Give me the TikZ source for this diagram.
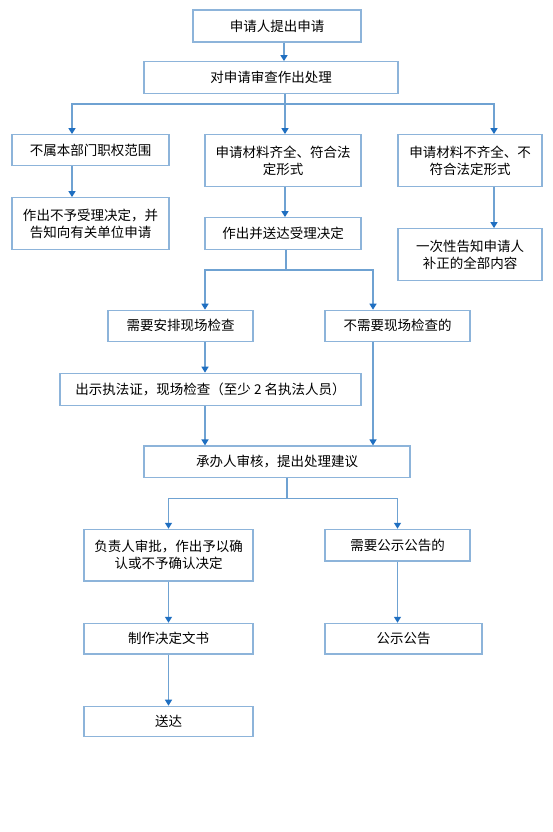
\documentclass[tikz,border=0pt]{standalone}
\usepackage{fontspec}
\newfontfamily\cjk{Noto Sans CJK SC}
\usetikzlibrary{arrows.meta}
\definecolor{boxc}{HTML}{8DB4DA}
\definecolor{linec}{HTML}{6FA2D2}
\definecolor{tipc}{HTML}{1F6FC1}
\begin{document}
\begin{tikzpicture}[x=1pt,y=-1pt,
  box/.style={draw=boxc, line width=1.2pt, inner sep=0pt, align=center,
    font=\cjk\fontsize{13.5}{17}\selectfont},
  conn/.style={draw=linec, line width=1.3pt},
  arr/.style={conn, -{Triangle[width=7pt,length=6pt,color=tipc]}}]
\useasboundingbox[fill=white] (0,0) rectangle (552,832);

\node[box, minimum width=168pt, minimum height=32pt] (b1) at (277,26) {申请人提出申请};
\node[box, minimum width=254pt, minimum height=31.6pt] (b2) at (271,77.5) {对申请审查作出处理};
\node[box, minimum width=157pt, minimum height=31pt] (b3a) at (90.5,150.2) {不属本部门职权范围};
\node[box, minimum width=156pt, minimum height=51.6pt] (b3b) at (283,160.5) {申请材料齐全、符合法\\定形式};
\node[box, minimum width=144pt, minimum height=51.6pt] (b3c) at (470,160.5) {申请材料不齐全、不\\符合法定形式};
\node[box, minimum width=157pt, minimum height=51.6pt] (b4a) at (90.5,223.5) {作出不予受理决定，并\\告知向有关单位申请};
\node[box, minimum width=156pt, minimum height=31.6pt] (b4b) at (283,233.5) {作出并送达受理决定};
\node[box, minimum width=144pt, minimum height=52pt] (b4c) at (470,254.7) {一次性告知申请人\\补正的全部内容};
\node[box, minimum width=145pt, minimum height=31pt] (b5a) at (180.5,325.8) {需要安排现场检查};
\node[box, minimum width=145pt, minimum height=31pt] (b5b) at (397.5,325.8) {不需要现场检查的};
\node[box, minimum width=301pt, minimum height=32pt] (b6) at (210.5,389.3) {出示执法证，现场检查（至少 2 名执法人员）};
\node[box, minimum width=266pt, minimum height=31.3pt] (b7) at (277,461.7) {承办人审核，提出处理建议};
\node[box, minimum width=169pt, minimum height=51.7pt] (b8a) at (168.5,555.2) {负责人审批，作出予以确\\认或不予确认决定};
\node[box, minimum width=145pt, minimum height=31.7pt] (b8b) at (397.5,545.2) {需要公示公告的};
\node[box, minimum width=169pt, minimum height=30.7pt] (b9a) at (168.5,638.7) {制作决定文书};
\node[box, minimum width=157pt, minimum height=30.7pt] (b9b) at (403.5,638.7) {公示公告};
\node[box, minimum width=169pt, minimum height=30.4pt] (b10) at (168.5,721.5) {送达};

\coordinate (j1) at (285,104);
\coordinate (j2) at (286,270);
\coordinate (j3) at (287,498.3);

\draw[arr] ([xshift=7pt]b1.south) -- ([xshift=13pt]b2.north);
\draw[conn] ([xshift=14pt]b2.south) -- (j1);
\draw[arr] (j1) -| ([xshift=-18.5pt]b3a.north);
\draw[arr] (j1) -- ([xshift=2pt]b3b.north);
\draw[arr] (j1) -| ([xshift=24pt]b3c.north);
\draw[arr] ([xshift=-18.5pt]b3a.south) -- ([xshift=-18.5pt]b4a.north);
\draw[arr] ([xshift=2pt]b3b.south) -- ([xshift=2pt]b4b.north);
\draw[arr] ([xshift=24pt]b3c.south) -- ([xshift=24pt]b4c.north);
\draw[conn] ([xshift=3pt]b4b.south) -- (j2);
\draw[arr] (j2) -| ([xshift=24.5pt]b5a.north);
\draw[arr] (j2) -| ([xshift=-24.5pt]b5b.north);
\draw[arr] ([xshift=24.5pt]b5a.south) -- ([xshift=-5.5pt]b6.north);
\draw[arr] ([xshift=-5.5pt]b6.south) -- ([xshift=-72pt]b7.north);
\draw[arr] ([xshift=-24.5pt]b5b.south) -- ([xshift=96pt]b7.north);
\draw[conn] ([xshift=10pt]b7.south) -- (j3);
\draw[arr] (j3) -| (b8a.north);
\draw[arr] (j3) -| (b8b.north);
\draw[arr] (b8a.south) -- (b9a.north);
\draw[arr] (b9a.south) -- (b10.north);
\draw[arr] (b8b.south) -- ([xshift=-6pt]b9b.north);
\end{tikzpicture}
\end{document}
